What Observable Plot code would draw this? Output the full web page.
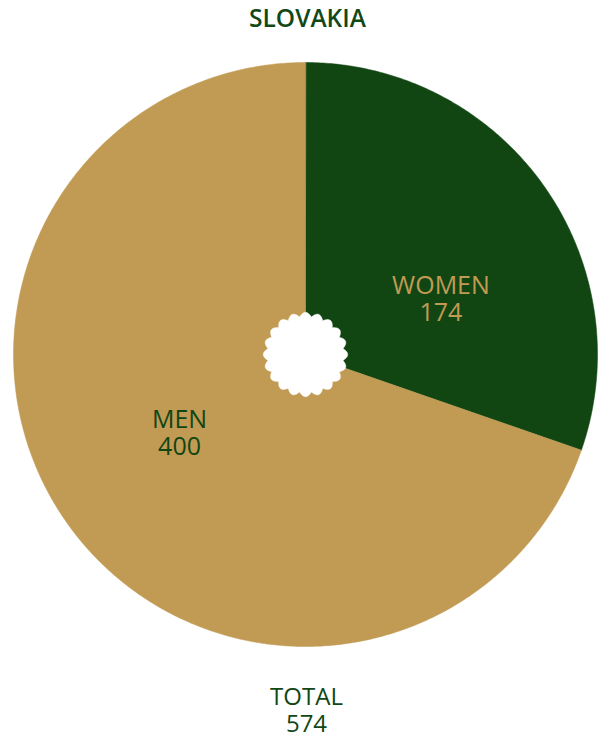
<!DOCTYPE html>
<html>
<head>
<meta charset="utf-8">
<script src="https://cdn.jsdelivr.net/npm/d3@7"></script>
<script src="https://cdn.jsdelivr.net/npm/@observablehq/plot@0.6"></script>
<style>
  html, body { margin: 0; padding: 0; background: #fff; }
  body { width: 599px; font-family: "Open Sans", sans-serif; }
  .title { height: 40px; box-sizing: border-box; padding-top: 6px; line-height: 24px; font-size: 24.5px; font-weight: 600; color: #124716; text-align: center; padding-left: 16px; }
  .total { padding-top: 12px; line-height: 27px; font-size: 24px; color: #124716; text-align: center; padding-left: 14px; }
  svg { display: block; }
</style>
</head>
<body>
<div class="title" id="title"></div>
<div id="chart"></div>
<div class="total" id="total"></div>
<script>
// ---- data ----
const country = "SLOVAKIA";
const categories = ["WOMEN", "MEN"];
const values = [174, 400];
const sliceColors = ["#114613", "#c19a54"];
const labelColors = ["#c19a54", "#114613"];
const totalLabel = "TOTAL";

// ---- derived ----
const total = d3.sum(values);
document.getElementById("title").textContent = country;
document.getElementById("total").innerHTML = totalLabel + "<br>" + total;

const pie = d3.pie().sort(null).value(d => d.value)(categories.map((c, i) => ({key: c, value: values[i]})));

// slice outlines as polygons in unit coordinates (angle measured clockwise from top)
const slicePts = [];
for (const a of pie) {
  const n = Math.max(8, Math.ceil((a.endAngle - a.startAngle) / (Math.PI / 360)));
  slicePts.push({key: a.data.key, x: 0, y: 0});
  for (let k = 0; k <= n; k++) {
    const t = a.startAngle + (a.endAngle - a.startAngle) * k / n;
    slicePts.push({key: a.data.key, x: Math.sin(t), y: Math.cos(t)});
  }
}

// scalloped white badge in the centre
const badge = [];
const bumps = 20;
for (let k = 0; k < 720; k++) {
  const t = 2 * Math.PI * k / 720;
  const r = 0.130 + 0.0145 * Math.abs(Math.cos(bumps / 2 * t));
  badge.push({x: Math.sin(t) * r, y: Math.cos(t) * r});
}

// labels at the slice mid-angle
const labels = pie.map((a, i) => {
  const m = (a.startAngle + a.endAngle) / 2;
  return {key: a.data.key, text: a.data.key + "\n" + a.data.value, x: 0.5 * Math.sin(m), y: 0.5 * Math.cos(m), color: labelColors[i]};
});

const chart = Plot.plot({
  width: 599,
  height: 630,
  marginLeft: 13,
  marginRight: 2,
  marginTop: 22,
  marginBottom: 24,
  x: {domain: [-1, 1], axis: null},
  y: {domain: [-1, 1], axis: null},
  color: {domain: categories, range: sliceColors},
  style: {fontFamily: "Open Sans, sans-serif", background: "transparent"},
  marks: [
    Plot.line(slicePts, {x: "x", y: "y", z: "key", fill: "key", stroke: "key", strokeWidth: 0.5, curve: "linear-closed"}),
    Plot.line(badge, {x: "x", y: "y", fill: "white", stroke: "white", strokeWidth: 0.5, curve: "linear-closed"}),
    Plot.text(labels.filter(d => d.key === "WOMEN"), {x: "x", y: "y", text: "text", fill: "color", fontSize: 25, lineHeight: 1.08, dx: 16.5, dy: 29.5}),
    Plot.text(labels.filter(d => d.key === "MEN"), {x: "x", y: "y", text: "text", fill: "color", fontSize: 25, lineHeight: 1.08, dx: -7, dy: -6})
  ]
});
document.getElementById("chart").appendChild(chart);
</script>
</body>
</html>
